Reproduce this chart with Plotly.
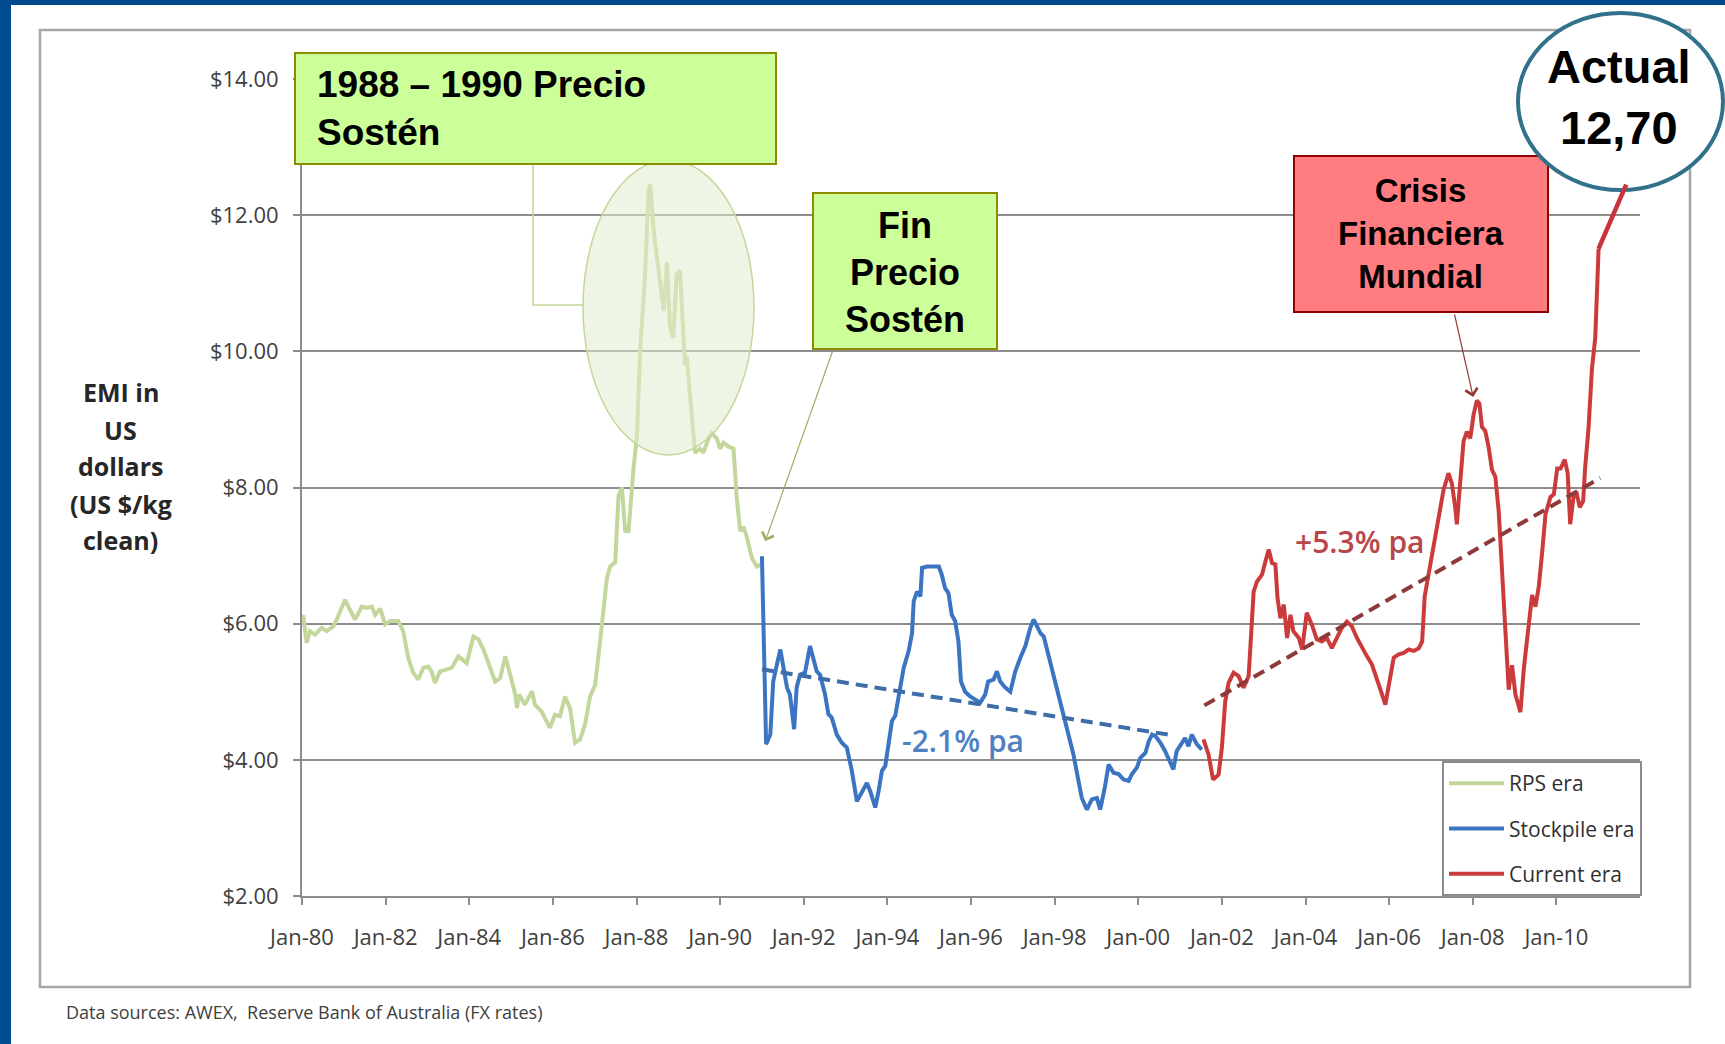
import plotly.graph_objects as go

# ---------------- data (decimal year, US$/kg clean) ----------------
rps_t = [1980.00, 1980.03, 1980.11, 1980.19, 1980.31, 1980.47, 1980.59, 1980.75, 1980.83,
         1981.03, 1981.15, 1981.27, 1981.43, 1981.55, 1981.67, 1981.75, 1981.87, 1981.99,
         1982.11, 1982.30, 1982.42, 1982.54, 1982.66, 1982.78, 1982.90,
         1983.02, 1983.10, 1983.18, 1983.30, 1983.46, 1983.58, 1983.74, 1983.86, 1983.94,
         1984.10, 1984.22, 1984.34, 1984.50, 1984.62, 1984.74, 1984.86, 1984.98,
         1985.10, 1985.14, 1985.19, 1985.33, 1985.50, 1985.57, 1985.73, 1985.93,
         1986.05, 1986.17, 1986.29, 1986.41, 1986.53, 1986.65, 1986.77, 1986.89,
         1987.01, 1987.13, 1987.21, 1987.29, 1987.37, 1987.49, 1987.57, 1987.65, 1987.73, 1987.81, 1987.93,
         1988.01, 1988.09, 1988.21, 1988.29, 1988.33, 1988.41, 1988.53, 1988.65, 1988.73, 1988.80, 1988.88, 1988.96,
         1989.04, 1989.12, 1989.16, 1989.20, 1989.28, 1989.36, 1989.40, 1989.52, 1989.60, 1989.72, 1989.80, 1989.92,
         1990.00, 1990.08, 1990.20, 1990.32, 1990.40, 1990.48, 1990.56, 1990.64, 1990.76, 1990.88, 1990.96]
rps_v = [6.10, 6.12, 5.72, 5.89, 5.84, 5.94, 5.89, 5.96, 6.06,
         6.35, 6.20, 6.06, 6.25, 6.23, 6.25, 6.13, 6.22, 5.99,
         6.04, 6.04, 5.89, 5.50, 5.28, 5.18, 5.35,
         5.37, 5.30, 5.13, 5.30, 5.32, 5.35, 5.52, 5.45, 5.42,
         5.81, 5.77, 5.62, 5.35, 5.15, 5.20, 5.52, 5.25,
         4.96, 4.76, 4.96, 4.81, 5.01, 4.81, 4.71, 4.47,
         4.66, 4.64, 4.93, 4.76, 4.25, 4.30, 4.52, 4.93,
         5.10, 5.74, 6.20, 6.66, 6.84, 6.90, 7.88, 8.00, 7.36, 7.36, 8.29,
         8.75, 10.03, 11.19, 12.38, 12.45, 11.77, 11.19, 10.60, 11.31, 10.37, 10.20, 11.13,
         11.19, 10.08, 9.80, 9.92, 9.33, 8.69, 8.51, 8.57, 8.51, 8.72, 8.80, 8.72,
         8.57, 8.66, 8.60, 8.57, 7.83, 7.36, 7.42, 7.27, 6.96, 6.84, 6.87]

stk_t = [1991.00, 1991.10, 1991.20, 1991.27, 1991.34, 1991.44, 1991.60, 1991.67, 1991.77, 1991.83, 1991.91,
         1992.03, 1992.15, 1992.23, 1992.31, 1992.39, 1992.51, 1992.59, 1992.67, 1992.79, 1992.91,
         1993.03, 1993.15, 1993.27, 1993.39, 1993.51, 1993.59, 1993.71, 1993.79, 1993.87, 1993.95,
         1994.03, 1994.11, 1994.19, 1994.27, 1994.39, 1994.51, 1994.59, 1994.63, 1994.71, 1994.79, 1994.83, 1994.95,
         1995.11, 1995.23, 1995.30, 1995.38, 1995.46, 1995.54, 1995.62, 1995.70, 1995.76, 1995.86, 1995.98,
         1996.10, 1996.22, 1996.34, 1996.41, 1996.54, 1996.62, 1996.70, 1996.82, 1996.94,
         1997.06, 1997.18, 1997.30, 1997.42, 1997.50, 1997.58, 1997.66, 1997.74, 1997.86, 1997.98,
         1998.09, 1998.21, 1998.33, 1998.45, 1998.57, 1998.65, 1998.77, 1998.89,
         1999.01, 1999.09, 1999.20, 1999.29, 1999.41, 1999.53, 1999.65, 1999.77, 1999.85, 1999.97,
         2000.05, 2000.17, 2000.25, 2000.33, 2000.41, 2000.53, 2000.64, 2000.76, 2000.84, 2000.92,
         2001.04, 2001.12, 2001.20, 2001.28, 2001.40, 2001.52]
stk_v = [6.99, 4.23, 4.37, 5.15, 5.35, 5.62, 5.06, 4.96, 4.45, 5.06, 5.25,
         5.28, 5.67, 5.49, 5.30, 5.25, 4.96, 4.67, 4.62, 4.37, 4.25,
         4.18, 3.84, 3.39, 3.54, 3.66, 3.54, 3.30, 3.54, 3.84, 3.91,
         4.23, 4.57, 4.65, 4.96, 5.35, 5.60, 5.86, 6.33, 6.47, 6.40, 6.82, 6.84,
         6.84, 6.84, 6.72, 6.52, 6.45, 6.13, 6.04, 5.74, 5.15, 5.00, 4.93,
         4.89, 4.84, 4.96, 5.15, 5.18, 5.30, 5.15, 5.06, 5.00,
         5.30, 5.50, 5.67, 5.94, 6.06, 5.96, 5.86, 5.81, 5.52, 5.25,
         4.98, 4.67, 4.42, 4.08, 3.69, 3.44, 3.27, 3.42,
         3.44, 3.27, 3.59, 3.93, 3.81, 3.79, 3.71, 3.69, 3.79, 3.89,
         4.03, 4.10, 4.27, 4.37, 4.35, 4.25, 4.13, 3.96, 3.86, 4.13,
         4.25, 4.32, 4.20, 4.37, 4.23, 4.15]

cur_t = [2001.56, 2001.68, 2001.79, 2001.92, 2002.00, 2002.08, 2002.16, 2002.28, 2002.40, 2002.52, 2002.64,
         2002.72, 2002.76, 2002.84, 2002.96, 2003.04, 2003.12, 2003.20, 2003.28, 2003.33, 2003.40, 2003.48,
         2003.56, 2003.64, 2003.71, 2003.84, 2003.92, 2004.03, 2004.15, 2004.27, 2004.39, 2004.51, 2004.63,
         2004.75, 2004.87, 2004.99, 2005.11, 2005.23, 2005.35, 2005.47, 2005.59, 2005.71, 2005.83, 2005.91,
         2006.03, 2006.11, 2006.23, 2006.35, 2006.47, 2006.59, 2006.71, 2006.79, 2006.85, 2006.95,
         2007.07, 2007.19, 2007.30, 2007.42, 2007.50, 2007.58, 2007.62, 2007.70, 2007.78, 2007.86, 2007.94,
         2008.02, 2008.10, 2008.16, 2008.22, 2008.30, 2008.38, 2008.46, 2008.54, 2008.62, 2008.70, 2008.78,
         2008.86, 2008.94, 2009.02, 2009.14, 2009.22, 2009.34, 2009.42, 2009.50, 2009.58, 2009.66, 2009.74,
         2009.86, 2009.94, 2010.02, 2010.10, 2010.20, 2010.27, 2010.33, 2010.41, 2010.49, 2010.56, 2010.64,
         2010.69, 2010.77, 2010.85, 2010.93, 2010.97, 2011.01]
cur_v = [4.30, 4.08, 3.71, 3.78, 4.18, 4.86, 5.13, 5.28, 5.23, 5.06, 5.23,
         5.94, 6.47, 6.62, 6.72, 6.91, 7.09, 6.89, 6.87, 6.38, 6.08, 6.28,
         5.79, 6.13, 5.89, 5.79, 5.62, 6.16, 5.99, 5.77, 5.74, 5.79, 5.64,
         5.79, 5.94, 6.03, 5.96, 5.79, 5.64, 5.52, 5.40, 5.20, 4.96, 4.81,
         5.20, 5.50, 5.55, 5.57, 5.62, 5.60, 5.64, 5.74, 6.40, 6.75,
         7.20, 7.61, 7.96, 8.21, 8.06, 7.71, 7.46, 8.08, 8.68, 8.82, 8.72,
         9.07, 9.28, 9.23, 8.89, 8.83, 8.59, 8.26, 8.16, 7.66, 6.85, 5.84,
         5.03, 5.39, 4.96, 4.70, 5.33, 5.99, 6.42, 6.25, 6.55, 7.05, 7.61,
         7.86, 7.90, 8.28, 8.28, 8.41, 8.21, 7.46, 7.86, 7.90, 7.71, 7.80,
         8.31, 8.88, 9.74, 10.20, 10.90, 11.51]

trend_stk_t = [1991.00, 2000.82]
trend_stk_v = [5.33, 4.36]
trend_cur_t = [2001.58, 2011.05]
trend_cur_v = [4.80, 8.14]

x_tick_vals = [1980, 1982, 1984, 1986, 1988, 1990, 1992, 1994, 1996, 1998, 2000, 2002, 2004, 2006, 2008, 2010]
x_tick_text = ["Jan-80", "Jan-82", "Jan-84", "Jan-86", "Jan-88", "Jan-90", "Jan-92", "Jan-94",
               "Jan-96", "Jan-98", "Jan-00", "Jan-02", "Jan-04", "Jan-06", "Jan-08", "Jan-10"]
y_tick_vals = [2, 4, 6, 8, 10, 12, 14]
y_tick_text = ["$2.00", "$4.00", "$6.00", "$8.00", "$10.00", "$12.00", "$14.00"]

series_names = ["RPS era", "Stockpile era", "Current era"]
y_title_lines = ["EMI in", "US", "dollars", "(US $/kg", "clean)"]

# ---------------- layout helpers (pixel -> paper) ----------------
W, H = 1725, 1044
L, R, T, B = 302, 1640, 79, 896


def px(x):
    return (x - L) / (R - L)


def py(y):
    return (B - y) / (B - T)


GREEN = "#C3D69B"
BLUE = "#3A74C2"
RED = "#CC3B3B"
GRID = "#8C8C8C"
CAL = "Open Sans, Lato, sans-serif"
ARIAL = "Liberation Sans, Arial, sans-serif"

fig = go.Figure()
fig.add_trace(go.Scatter(x=rps_t, y=rps_v, mode="lines", name=series_names[0], legendgroup="a",
                         line=dict(color=GREEN, width=4)))
fig.add_trace(go.Scatter(x=stk_t, y=stk_v, mode="lines", name=series_names[1], legendgroup="b",
                         line=dict(color=BLUE, width=4)))
fig.add_trace(go.Scatter(x=cur_t, y=cur_v, mode="lines", name=series_names[2], legendgroup="c",
                         line=dict(color=RED, width=4)))
fig.add_trace(go.Scatter(x=trend_stk_t, y=trend_stk_v, mode="lines", showlegend=False,
                         line=dict(color="#3F6DAA", width=4, dash="12px,7px")))
fig.add_trace(go.Scatter(x=trend_cur_t, y=trend_cur_v, mode="lines", showlegend=False,
                         line=dict(color="#8E3A3A", width=4, dash="12px,7px")))

shapes = []
# blue slide frame
shapes.append(dict(type="rect", xref="paper", yref="paper", x0=px(0), x1=px(11), y0=py(H), y1=py(0),
                   fillcolor="#004A8F", line=dict(width=0), layer="below"))
shapes.append(dict(type="rect", xref="paper", yref="paper", x0=px(0), x1=px(W), y0=py(5), y1=py(0),
                   fillcolor="#004A8F", line=dict(width=0), layer="below"))
# chart border
shapes.append(dict(type="rect", xref="paper", yref="paper", x0=px(40), x1=px(1690), y0=py(987), y1=py(30),
                   line=dict(color="#A6A6A6", width=2.5), layer="below"))
# ellipse over the support-price peak
shapes.append(dict(type="circle", xref="paper", yref="paper", x0=px(583), x1=px(754), y0=py(455), y1=py(160),
                   fillcolor="rgba(226,236,206,0.55)", line=dict(color="#C4D79B", width=1.5), layer="above"))
# bracket connector from box to ellipse
shapes.append(dict(type="path", xref="paper", yref="paper",
                   path=f"M {px(533)},{py(164)} L {px(533)},{py(305)} L {px(583)},{py(305)}",
                   line=dict(color="#C4D79B", width=1.5), layer="above"))
# box 1
shapes.append(dict(type="rect", xref="paper", yref="paper", x0=px(295), x1=px(776), y0=py(164), y1=py(53),
                   fillcolor="#CCFF99", line=dict(color="#8C8C00", width=2), layer="above"))
# box 2
shapes.append(dict(type="rect", xref="paper", yref="paper", x0=px(813), x1=px(997), y0=py(349), y1=py(193),
                   fillcolor="#CCFF99", line=dict(color="#8C8C00", width=2), layer="above"))
# box 3
shapes.append(dict(type="rect", xref="paper", yref="paper", x0=px(1294), x1=px(1548), y0=py(312), y1=py(156),
                   fillcolor="#FF7C80", line=dict(color="#8B0000", width=2), layer="above"))
# 'Actual' ellipse
shapes.append(dict(type="circle", xref="paper", yref="paper", x0=px(1518), x1=px(1723), y0=py(190), y1=py(13),
                   fillcolor="white", line=dict(color="#31718A", width=4), layer="above"))
# connector from last value to the 'Actual' ellipse
shapes.append(dict(type="line", xref="x", yref="y", x0=cur_t[-1], y0=cur_v[-1], x1=2011.67, y1=12.45,
                   line=dict(color="#C8323A", width=4.5), layer="above"))

ann = []
ann.append(dict(xref="paper", yref="paper", x=px(315), y=py(108.5), xanchor="left", yanchor="middle",
                text="1988 – 1990 Precio<br>Sostén", showarrow=False, align="left",
                font=dict(family=ARIAL, size=37, color="black", weight="bold")))
ann.append(dict(xref="paper", yref="paper", x=px(905), y=py(272), xanchor="center", yanchor="middle",
                text="Fin<br>Precio<br>Sostén", showarrow=False, align="center",
                font=dict(family=ARIAL, size=36, color="black", weight="bold")))
ann.append(dict(xref="paper", yref="paper", x=px(1421), y=py(234), xanchor="center", yanchor="middle",
                text="Crisis<br>Financiera<br>Mundial", showarrow=False, align="center",
                font=dict(family=ARIAL, size=33, color="black", weight="bold")))
ann.append(dict(xref="paper", yref="paper", x=px(1619), y=py(97), xanchor="center", yanchor="middle",
                text="Actual<br>12,70", showarrow=False, align="center",
                font=dict(family=ARIAL, size=47, color="black", weight="bold")))
# arrows
ann.append(dict(xref="x", yref="y", x=1991.08, y=7.21, ax=68, ay=-192, text="", showarrow=True,
                arrowhead=4, arrowsize=2, arrowwidth=1.2, arrowcolor="#9BB060"))
ann.append(dict(xref="x", yref="y", x=2008.01, y=9.33, ax=-19, ay=-84, text="", showarrow=True,
                arrowhead=4, arrowsize=2, arrowwidth=1.2, arrowcolor="#943634"))
# trend labels
ann.append(dict(xref="x", yref="y", x=1995.81, y=4.29, text="-2.1% pa", showarrow=False,
                font=dict(family=CAL, size=30, color="#4F80C2", weight=600)))
ann.append(dict(xref="x", yref="y", x=2005.29, y=7.21, text="+5.3% pa", showarrow=False,
                font=dict(family=CAL, size=30, color="#B8474C", weight=600)))
# y-axis title (one line each)
for line_text, yy in zip(y_title_lines, [392, 430, 466, 504, 540]):
    ann.append(dict(xref="paper", yref="paper", x=px(121), y=py(yy), xanchor="center", yanchor="middle",
                    text=line_text, showarrow=False,
                    font=dict(family=CAL, size=25, color="#262626", weight="bold")))
# footer
ann.append(dict(xref="paper", yref="paper", x=px(64), y=py(1012), xanchor="left", yanchor="middle",
                text="Data sources: AWEX,  Reserve Bank of Australia (FX rates)", showarrow=False,
                font=dict(family=CAL, size=18, color="#404040")))

fig.update_layout(
    width=W, height=H,
    margin=dict(l=L, r=W - R, t=T, b=H - B, pad=0),
    paper_bgcolor="white", plot_bgcolor="white",
    shapes=shapes, annotations=ann,
    showlegend=True,
    legend=dict(x=px(1442), y=0, xanchor="left", yanchor="bottom", bgcolor="white",
                bordercolor=GRID, borderwidth=2, tracegroupgap=15, itemwidth=55,
                font=dict(family=CAL, size=21, color="#303030")),
    xaxis=dict(range=[1980, 2012], tickvals=x_tick_vals, ticktext=x_tick_text, showgrid=False,
               zeroline=False, showline=True, linecolor=GRID, linewidth=2, ticks="outside", ticklen=7,
               tickcolor=GRID, tickwidth=1.5, ticklabelstandoff=14,
               tickfont=dict(family=CAL, size=22, color="#404040")),
    yaxis=dict(range=[2, 14], tickvals=y_tick_vals, ticktext=y_tick_text, showgrid=True,
               gridcolor=GRID, gridwidth=2, zeroline=False, showline=True, linecolor=GRID, linewidth=2,
               ticks="outside", ticklen=7, tickcolor=GRID, tickwidth=1.5, ticklabelstandoff=10,
               tickfont=dict(family=CAL, size=22, color="#404040")),
)

fig.write_html("out.html", config={"displayModeBar": False},
               post_script="document.body.style.margin='0px';document.body.style.overflow='hidden';")
